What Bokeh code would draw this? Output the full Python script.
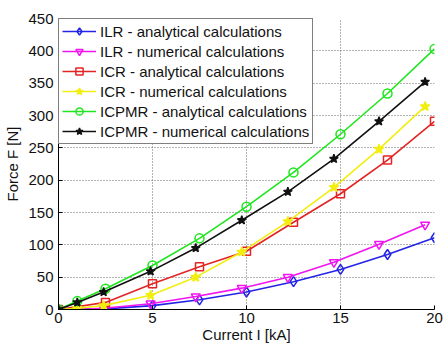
from bokeh.plotting import figure
from bokeh.models import FixedTicker, Range1d, Legend, LegendItem
from bokeh.embed import file_html
from bokeh.resources import INLINE

# Data
x_analytical = [0, 2.5, 5, 7.5, 10, 12.5, 15, 17.5, 20]
x_icpmr_analytical = [0, 1, 2.5, 5, 7.5, 10, 12.5, 15, 17.5, 20]
x_numerical = [0, 1, 2.4, 4.9, 7.3, 9.75, 12.2, 14.65, 17.05, 19.5]

ilr_analytical = [0, 1, 6, 15, 27, 43, 62, 85, 111]
ilr_numerical = [0, 0, 2, 9, 20, 33, 50, 73, 101, 131]
icr_analytical = [0, 11, 40, 66, 90, 135, 179, 231, 291]
icr_numerical = [0, 2, 6, 22, 50, 89, 136, 189, 248, 314]
icpmr_analytical = [0, 13, 32, 68, 110, 159, 212, 271, 334, 403]
icpmr_numerical = [0, 11, 27, 59, 95, 138, 182, 233, 291, 352]

labels = [
    "ILR - analytical calculations",
    "ILR - numerical calculations",
    "ICR - analytical calculations",
    "ICR - numerical calculations",
    "ICPMR - analytical calculations",
    "ICPMR - numerical calculations",
]
x_ticks = [0, 5, 10, 15, 20]
y_ticks = [0, 50, 100, 150, 200, 250, 300, 350, 400, 450]

FONT = "Liberation Sans"

p = figure(width=443, height=345, output_backend="svg", toolbar_location=None,
           x_range=Range1d(0, 20), y_range=Range1d(0, 450),
           min_border_left=58, min_border_right=9, min_border_top=18, min_border_bottom=35)
p.outline_line_color = None
p.background_fill_color = "white"
p.border_fill_color = "white"

for ax in (p.xaxis[0], p.yaxis[0]):
    ax.major_label_text_font = FONT
    ax.major_label_text_font_size = "15px"
    ax.major_label_text_color = "#111111"
    ax.axis_label_text_font = FONT
    ax.axis_label_text_font_size = "15px"
    ax.axis_label_text_font_style = "normal"
    ax.axis_label_text_color = "#111111"
    ax.axis_line_color = "black"
    ax.major_tick_in = 4
    ax.major_tick_out = 0
    ax.minor_tick_line_color = None

p.xaxis.ticker = FixedTicker(ticks=x_ticks)
p.yaxis.ticker = FixedTicker(ticks=y_ticks)
p.xaxis.axis_label = "Current I [kA]"
p.yaxis.axis_label = "Force F [N]"
p.xaxis.major_label_standoff = 3
p.xaxis.axis_label_standoff = 0
p.yaxis.major_label_standoff = 5
p.yaxis.axis_label_standoff = 4

for g in (p.xgrid[0], p.ygrid[0]):
    g.grid_line_color = "#666666"
    g.grid_line_dash = "1 2"
    g.grid_line_width = 1

series = [
    (x_analytical, ilr_analytical, "#2424e6", "diamond", False, 10),
    (x_numerical, ilr_numerical, "#f014f0", "inverted_triangle", False, 9),
    (x_analytical, icr_analytical, "#e42424", "square", False, 8),
    (x_numerical, icr_numerical, "#f2ee10", "star", True, 10),
    (x_icpmr_analytical, icpmr_analytical, "#1ee61e", "circle", False, 9),
    (x_numerical, icpmr_numerical, "#111111", "star", True, 9),
]

items = []
for (xs, ys, color, marker, filled, size), label in zip(series, labels):
    ln = p.line(xs, ys, line_color=color, line_width=1.6)
    sc = p.scatter(xs, ys, marker=marker, size=size, line_color=color, line_width=1.5,
                   fill_color=color if filled else None)
    items.append(LegendItem(label=label, renderers=[ln, sc]))

legend = Legend(items=items, location="top_left", margin=0, padding=3, spacing=2,
                glyph_width=34, glyph_height=18, label_height=18, label_standoff=4,
                label_text_font=FONT, label_text_font_size="15px", label_text_color="#111111",
                border_line_color="black", border_line_width=1,
                background_fill_color="white", background_fill_alpha=1.0)
p.add_layout(legend)

open("out.html", "w").write(file_html(p, INLINE))
